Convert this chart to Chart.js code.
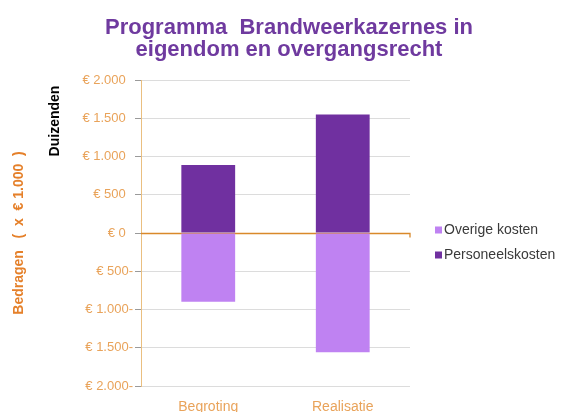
<!DOCTYPE html>
<html><head><meta charset="utf-8">
<script src="https://cdn.jsdelivr.net/npm/chart.js@4.4.0/dist/chart.umd.min.js"></script>
<style>html,body{margin:0;padding:0;background:#fff}#wrap{width:575px;height:412px}</style>
</head><body><div id="wrap"><canvas id="c" width="575" height="412"></canvas></div>
<script>
const categories = ['Begroting', 'Realisatie'];
const overigeKosten = [-900, -1560];
const personeelskosten = [890, 1550];
const seriesNames = ['Overige kosten', 'Personeelskosten'];
const yTicks = [-2000, -1500, -1000, -500, 0, 500, 1000, 1500, 2000];
const titleLines = ['Programma  Brandweerkazernes in', 'eigendom en overgangsrecht'];

const colLight = '#bf82f2', colDark = '#7030a0';
const orange = '#e9a35a';
const FAM = '"Liberation Sans", Arial, sans-serif';

function fmt(v){
  const a = Math.abs(v);
  const s = a >= 1000 ? Math.floor(a/1000) + '.' + String(a%1000).padStart(3,'0') : String(a);
  if (v < 0) return '€ ' + s + '-';
  return '€ ' + s + '  ';
}

const extraText = {
  id: 'extraText',
  beforeDatasetsDraw(chart){
    const ctx = chart.ctx, y = Math.round(chart.scales.y.getPixelForValue(0)) + 0.5, a = chart.chartArea;
    ctx.save();
    ctx.strokeStyle = '#d9892a';
    ctx.lineWidth = 1.3;
    ctx.beginPath();
    ctx.moveTo(a.left, y);
    ctx.lineTo(a.right, y);
    ctx.lineTo(a.right, y + 4);
    ctx.stroke();
    ctx.restore();
  },
  afterDraw(chart){
    const ctx = chart.ctx;
    ctx.save();
    ctx.fillStyle = '#6f3a9f';
    ctx.font = 'bold 22px ' + FAM;
    ctx.textAlign = 'center';
    ctx.textBaseline = 'alphabetic';
    ctx.fillText(titleLines[0], 289, 33.5);
    ctx.fillText(titleLines[1], 289, 56);
    ctx.restore();

    ctx.save();
    ctx.translate(55, 121);
    ctx.rotate(-Math.PI/2);
    ctx.fillStyle = '#000';
    ctx.font = 'bold 14px ' + FAM;
    ctx.textAlign = 'center';
    ctx.textBaseline = 'middle';
    ctx.fillText('Duizenden', 0, 0);
    ctx.restore();

    ctx.save();
    const items = [[seriesNames[0], colLight, 230], [seriesNames[1], colDark, 255]];
    ctx.font = '14px ' + FAM;
    ctx.textBaseline = 'middle';
    ctx.textAlign = 'left';
    items.forEach(([t,c,y])=>{
      ctx.fillStyle = c;
      ctx.fillRect(435, y-3.5, 7, 7);
      ctx.fillStyle = '#3a3a3a';
      ctx.fillText(t, 444, y);
    });
    ctx.restore();
  }
};

new Chart(document.getElementById('c'), {
  type: 'bar',
  data: {
    labels: categories,
    datasets: [
      { label: seriesNames[0], data: overigeKosten, backgroundColor: colLight, barPercentage: 0.5, categoryPercentage: 0.8 },
      { label: seriesNames[1], data: personeelskosten, backgroundColor: colDark, barPercentage: 0.5, categoryPercentage: 0.8 }
    ]
  },
  options: {
    responsive: false,
    animation: false,
    layout: { padding: { left: 0, right: 165, top: 80, bottom: 0 } },
    plugins: {
      legend: { display: false },
      tooltip: { enabled: false },
      title: { display: false }
    },
    scales: {
      x: {
        stacked: true,
        grid: { display: false },
        border: { display: false },
        ticks: { color: orange, padding: 5, font: { family: FAM, size: 14 } },
        afterFit(s){ s.height = 26; }
      },
      y: {
        stacked: true,
        min: -2000, max: 2000,
        afterBuildTicks(s){ s.ticks = yTicks.map(v=>({value:v})); },
        ticks: {
          color: orange, padding: 2,
          font: { family: FAM, size: 13 },
          callback: (v)=>fmt(v)
        },
        grid: {
          color: (c)=> c.index === 4 ? 'rgba(0,0,0,0)' : '#dcdcdc',
          tickColor: '#9a9a9a',
          tickLength: 6,
          lineWidth: 1
        },
        border: { display: true, color: '#eabf80', width: 1 },
        title: {
          display: true,
          text: 'Bedragen   (  x  € 1.000  )',
          color: '#e5802a',
          font: { family: FAM, size: 14, weight: 'bold' },
          padding: { top: 11, bottom: 0 }
        },
        afterFit(s){ s.width = 141; }
      }
    }
  },
  plugins: [extraText]
});
</script></body></html>
